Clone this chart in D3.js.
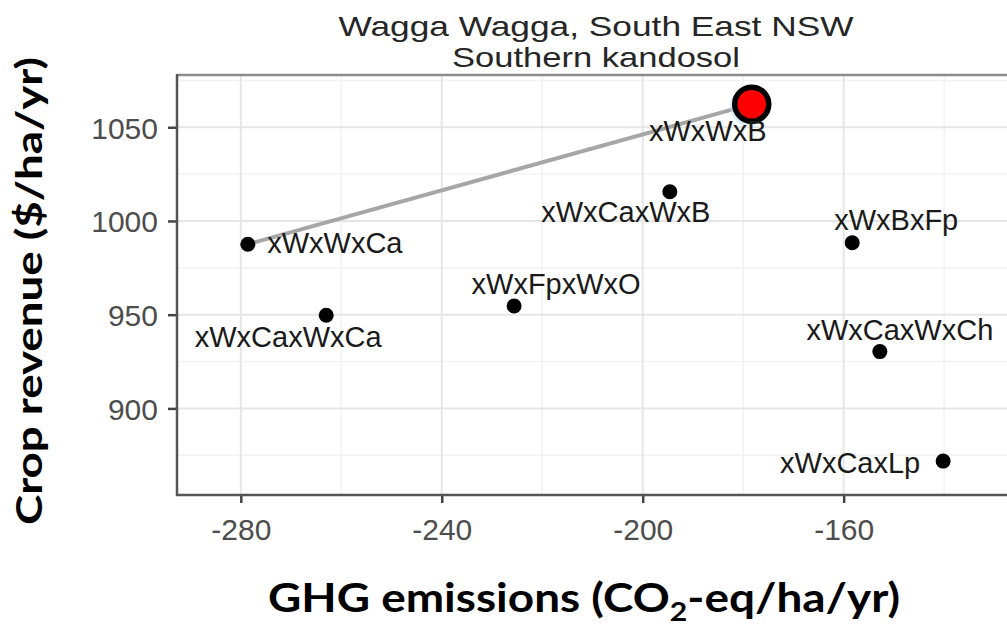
<!DOCTYPE html>
<html>
<head>
<meta charset="utf-8">
<script src="https://cdn.jsdelivr.net/npm/d3@7"></script>
<style>
  html, body { margin: 0; padding: 0; background: #fff; }
  svg { display: block; }
</style>
</head>
<body>
<svg id="chart" width="1007" height="629"></svg>
<script>
// Cropping systems: GHG emissions vs crop revenue
const systems = ["xWxWxCa", "xWxCaxWxCa", "xWxFpxWxO", "xWxCaxWxB", "xWxWxB", "xWxBxFp", "xWxCaxWxCh", "xWxCaxLp"];
const ghgEmissions = [-278.6, -263.0, -225.6, -194.6, -178.3, -158.3, -152.8, -140.2];
const cropRevenue = [987.6, 949.7, 954.6, 1015.6, 1062.3, 988.4, 930.3, 871.9];

// efficient frontier runs between these systems; the last one is highlighted
const frontierSystems = ["xWxWxCa", "xWxWxB"];
const highlighted = "xWxWxB";

const xTickValues = [-280, -240, -200, -160];
const yTickValues = [900, 950, 1000, 1050];

const titleLines = ["Wagga Wagga, South East NSW", "Southern kandosol"];
const xTitleParts = ["GHG emissions (CO", "2", "-eq/ha/yr)"];
const yTitle = "Crop revenue ($/ha/yr)";

// label placement relative to each point (pixels, text centre / baseline)
const labelNudge = {
  "xWxWxCa":    [87, 9],
  "xWxCaxWxCa": [-38, 32],
  "xWxFpxWxO":  [42, -12],
  "xWxCaxWxB":  [-44, 30],
  "xWxWxB":     [-44, 37],
  "xWxBxFp":    [44, -13],
  "xWxCaxWxCh": [20, -12],
  "xWxCaxLp":   [-93, 12]
};

const points = systems.map((s, i) => ({ name: s, x: ghgEmissions[i], y: cropRevenue[i] }));

const svg = d3.select("#chart");
const panel = { left: 177, right: 1017, top: 75, bottom: 495 };

const x = d3.scaleLinear().domain([-292.7, -125.5]).range([panel.left, panel.right]);
const y = d3.scaleLinear().domain([853.8, 1077.5]).range([panel.bottom, panel.top + 0.7]);

// grid: minor lines halfway between major ticks
const xStep = xTickValues[1] - xTickValues[0];
const yStep = yTickValues[1] - yTickValues[0];
const xMinor = xTickValues.map(v => v - xStep / 2).concat([xTickValues[xTickValues.length - 1] + xStep / 2]);
const yMinor = yTickValues.map(v => v - yStep / 2).concat([yTickValues[yTickValues.length - 1] + yStep / 2]);

const grid = svg.append("g");
grid.selectAll(".xminor").data(xMinor.filter(v => x(v) > panel.left)).join("line")
  .attr("x1", d => x(d)).attr("x2", d => x(d)).attr("y1", panel.top).attr("y2", panel.bottom)
  .attr("stroke", "#f2f2f2").attr("stroke-width", 1.5);
grid.selectAll(".yminor").data(yMinor.filter(v => y(v) > panel.top + 3)).join("line")
  .attr("x1", panel.left).attr("x2", panel.right).attr("y1", d => y(d)).attr("y2", d => y(d))
  .attr("stroke", "#f2f2f2").attr("stroke-width", 1.5);
grid.selectAll(".xmajor").data(xTickValues).join("line")
  .attr("x1", d => x(d)).attr("x2", d => x(d)).attr("y1", panel.top).attr("y2", panel.bottom)
  .attr("stroke", "#e6e6e6").attr("stroke-width", 2);
grid.selectAll(".ymajor").data(yTickValues).join("line")
  .attr("x1", panel.left).attr("x2", panel.right).attr("y1", d => y(d)).attr("y2", d => y(d))
  .attr("stroke", "#e6e6e6").attr("stroke-width", 2);

// panel border
svg.append("line").attr("x1", panel.left).attr("x2", panel.right).attr("y1", panel.top).attr("y2", panel.top)
  .attr("stroke", "#8c8c8c").attr("stroke-width", 2.5);

// axes
const tickFont = "Liberation Sans, Arial, sans-serif";
const xAxis = svg.append("g").attr("transform", `translate(0,${panel.bottom})`)
  .call(d3.axisBottom(x).tickValues(xTickValues).tickSize(8).tickPadding(8).tickFormat(d => String(d)));
const yAxis = svg.append("g").attr("transform", `translate(${panel.left},0)`)
  .call(d3.axisLeft(y).tickValues(yTickValues).tickSize(9).tickPadding(10).tickFormat(d => String(d)));

[xAxis, yAxis].forEach(a => {
  a.select(".domain").remove();
  a.selectAll(".tick line").attr("stroke", "#444").attr("stroke-width", 2.5);
  a.selectAll(".tick text").attr("fill", "#4d4d4d").style("font-family", tickFont).style("font-size", "30px");
});
xAxis.selectAll(".tick text").attr("dy", "0.95em");
yAxis.selectAll(".tick text").attr("dy", "0.36em");

svg.append("line").attr("x1", panel.left).attr("x2", panel.left).attr("y1", panel.top - 1).attr("y2", panel.bottom + 1)
  .attr("stroke", "#555").attr("stroke-width", 2.5);
svg.append("line").attr("x1", panel.left - 1).attr("x2", panel.right).attr("y1", panel.bottom).attr("y2", panel.bottom)
  .attr("stroke", "#555").attr("stroke-width", 2.5);

// efficient frontier line
const frontier = points.filter(p => frontierSystems.includes(p.name));
svg.append("path")
  .datum(frontier)
  .attr("d", d3.line().x(d => x(d.x)).y(d => y(d.y)))
  .attr("fill", "none").attr("stroke", "#a6a6a6").attr("stroke-width", 4);

// points
svg.selectAll(".pt").data(points.filter(p => p.name !== highlighted)).join("circle")
  .attr("cx", d => x(d.x)).attr("cy", d => y(d.y)).attr("r", 7.5).attr("fill", "#000");

const best = points.find(p => p.name === highlighted);
svg.append("circle").attr("cx", x(best.x) - 2).attr("cy", y(best.y) + 2).attr("r", 18.5)
  .attr("fill", "none").attr("stroke", "#bfe0f5").attr("stroke-width", 2.5).attr("opacity", 0.6);
svg.append("circle").attr("cx", x(best.x)).attr("cy", y(best.y)).attr("r", 17)
  .attr("fill", "#ff0000").attr("stroke", "#000").attr("stroke-width", 5.5);

// point labels
svg.selectAll(".lbl").data(points).join("text")
  .attr("x", d => x(d.x) + labelNudge[d.name][0])
  .attr("y", d => y(d.y) + labelNudge[d.name][1])
  .attr("text-anchor", "middle")
  .style("font-family", tickFont).style("font-size", "29px").attr("fill", "#1a1a1a")
  .text(d => d.name);

// title
const titleWidths = [515, 288];
svg.selectAll(".title").data(titleLines).join("text")
  .attr("x", 596).attr("y", (d, i) => 36 + i * 31)
  .attr("text-anchor", "middle")
  .attr("textLength", (d, i) => titleWidths[i]).attr("lengthAdjust", "spacingAndGlyphs")
  .style("font-family", tickFont).style("font-size", "28px").attr("fill", "#262626")
  .text(d => d);

// axis titles
const xt = svg.append("text").attr("x", 584).attr("y", 612).attr("text-anchor", "middle")
  .attr("textLength", 632).attr("lengthAdjust", "spacingAndGlyphs")
  .style("font-family", "Lato, sans-serif").style("font-weight", "700").style("font-size", "41px").attr("fill", "#000");
xt.append("tspan").text(xTitleParts[0]);
xt.append("tspan").attr("dy", 9).style("font-size", "27px").text(xTitleParts[1]);
xt.append("tspan").attr("dy", -9).text(xTitleParts[2]);

svg.append("text")
  .attr("transform", `translate(42,291) rotate(-90)`)
  .attr("text-anchor", "middle")
  .attr("textLength", 468).attr("lengthAdjust", "spacingAndGlyphs")
  .style("font-family", "Lato, sans-serif").style("font-weight", "700").style("font-size", "37px").attr("fill", "#000")
  .text(yTitle);
</script>
</body>
</html>
